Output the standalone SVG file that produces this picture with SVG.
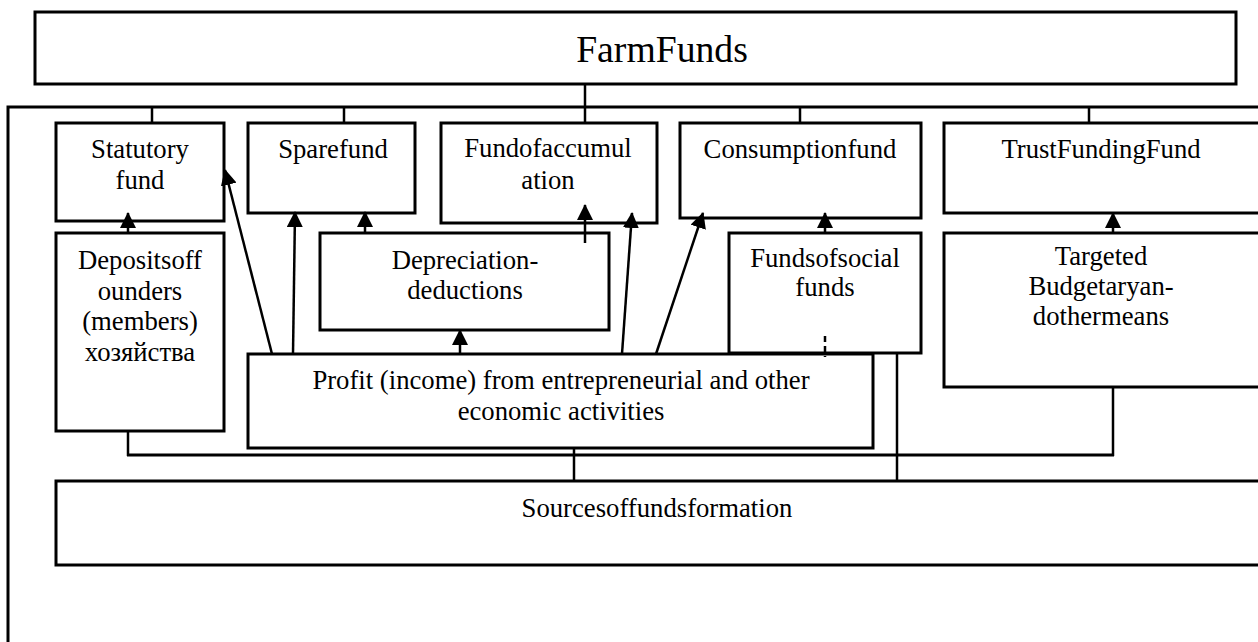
<svg xmlns="http://www.w3.org/2000/svg" width="1258" height="642" viewBox="0 0 1258 642">
<style>
  .box { fill: #fff; stroke: #000; stroke-width: 3; }
  .ln { fill: none; stroke: #000; stroke-width: 2.5; }
  .ar { fill: none; stroke: #000; stroke-width: 2.5; marker-end: url(#ah); }
  text { font-family: "Liberation Serif", "Times New Roman", serif; font-size: 26.7px; fill: #000; text-anchor: middle; }
  .big { font-size: 37.7px; }
</style>
<defs>
  <marker id="ah" markerUnits="userSpaceOnUse" markerWidth="16" markerHeight="16" viewBox="0 0 16 16" refX="15" refY="8" orient="auto">
    <path d="M0,0 L16,8 L0,16 Z" fill="#000"/>
  </marker>
</defs>
<rect width="1258" height="642" fill="#fff"/>

<g id="connectors">
  <line class="ln" x1="585" y1="84" x2="585" y2="123"/>
  <path d="M8,642 L8,107 L1260,107" fill="none" stroke="#000" stroke-width="3"/>
  <line class="ln" x1="152" y1="107" x2="152" y2="123"/>
  <line class="ln" x1="344" y1="107" x2="344" y2="123"/>
  <line class="ln" x1="800" y1="107" x2="800" y2="123"/>
  <line class="ln" x1="1089" y1="107" x2="1089" y2="123"/>
  <line class="ln" x1="128" y1="431" x2="128" y2="456"/>
  <line x1="127" y1="455" x2="1114" y2="455" stroke="#000" stroke-width="3"/>
  <line class="ln" x1="1113" y1="360" x2="1113" y2="456"/>
  <line class="ln" x1="574" y1="448" x2="574" y2="481"/>
  <line class="ln" x1="897" y1="352" x2="897" y2="481"/>
</g>

<g id="n-farm"><rect class="box" x="35" y="12" width="1201" height="72"/><text class="big" x="662" y="62">FarmFunds</text></g>
<g id="n-statutory"><rect class="box" x="56" y="123" width="168" height="98"/><text x="140" y="158">Statutory</text><text x="140" y="189">fund</text></g>
<g id="n-spare"><rect class="box" x="248" y="123" width="167" height="90"/><text x="333" y="158">Sparefund</text></g>
<g id="n-accum"><rect class="box" x="441" y="123" width="216" height="100"/><text x="548" y="157">Fundofaccumul</text><text x="548" y="189">ation</text></g>
<g id="n-consumption"><rect class="box" x="680" y="123" width="241" height="95"/><text x="800" y="158">Consumptionfund</text></g>
<g id="n-trust"><rect class="box" x="944" y="123" width="316" height="90"/><text x="1101" y="158">TrustFundingFund</text></g>
<g id="n-deposits"><rect class="box" x="56" y="233" width="168" height="198"/><text x="140" y="269">Depositsoff</text><text x="140" y="300">ounders</text><text x="140" y="330">(members)</text><text x="140" y="361">хозяйства</text></g>
<g id="n-depreciation"><rect class="box" x="320" y="233" width="289" height="97"/><text x="465" y="269">Depreciation-</text><text x="465" y="299">deductions</text></g>
<g id="n-social"><rect class="box" x="729" y="233" width="192" height="120"/><text x="825" y="267">Fundsofsocial</text><text x="825" y="296">funds</text></g>
<g id="n-targeted"><rect class="box" x="944" y="233" width="316" height="154"/><text x="1101" y="265">Targeted</text><text x="1101" y="295">Budgetaryan-</text><text x="1101" y="325">dothermeans</text></g>
<g id="n-profit"><rect class="box" x="248" y="354" width="625" height="94"/><text x="561" y="389">Profit (income) from entrepreneurial and other</text><text x="561" y="420">economic activities</text></g>
<g id="n-sources"><rect class="box" x="56" y="481" width="1204" height="84"/><text x="657" y="517">Sourcesoffundsformation</text></g>

<g id="arrows">
  <line class="ar" x1="128" y1="233" x2="128" y2="213"/>
  <line class="ar" x1="272" y1="354" x2="225" y2="170"/>
  <line class="ar" x1="293" y1="354" x2="295" y2="212"/>
  <line class="ar" x1="365" y1="233" x2="365" y2="212"/>
  <line class="ar" x1="460" y1="354" x2="460" y2="330"/>
  <line class="ar" x1="585" y1="243" x2="585" y2="205"/>
  <line class="ar" x1="622" y1="354" x2="632" y2="213"/>
  <line class="ar" x1="656" y1="354" x2="703" y2="213"/>
  <line class="ar" x1="825" y1="233" x2="825" y2="213"/>
  <line class="ar" x1="1113" y1="233" x2="1113" y2="213"/>
  <line class="ln" x1="825" y1="336" x2="825" y2="357" stroke-dasharray="6 4"/>
</g>
</svg>
